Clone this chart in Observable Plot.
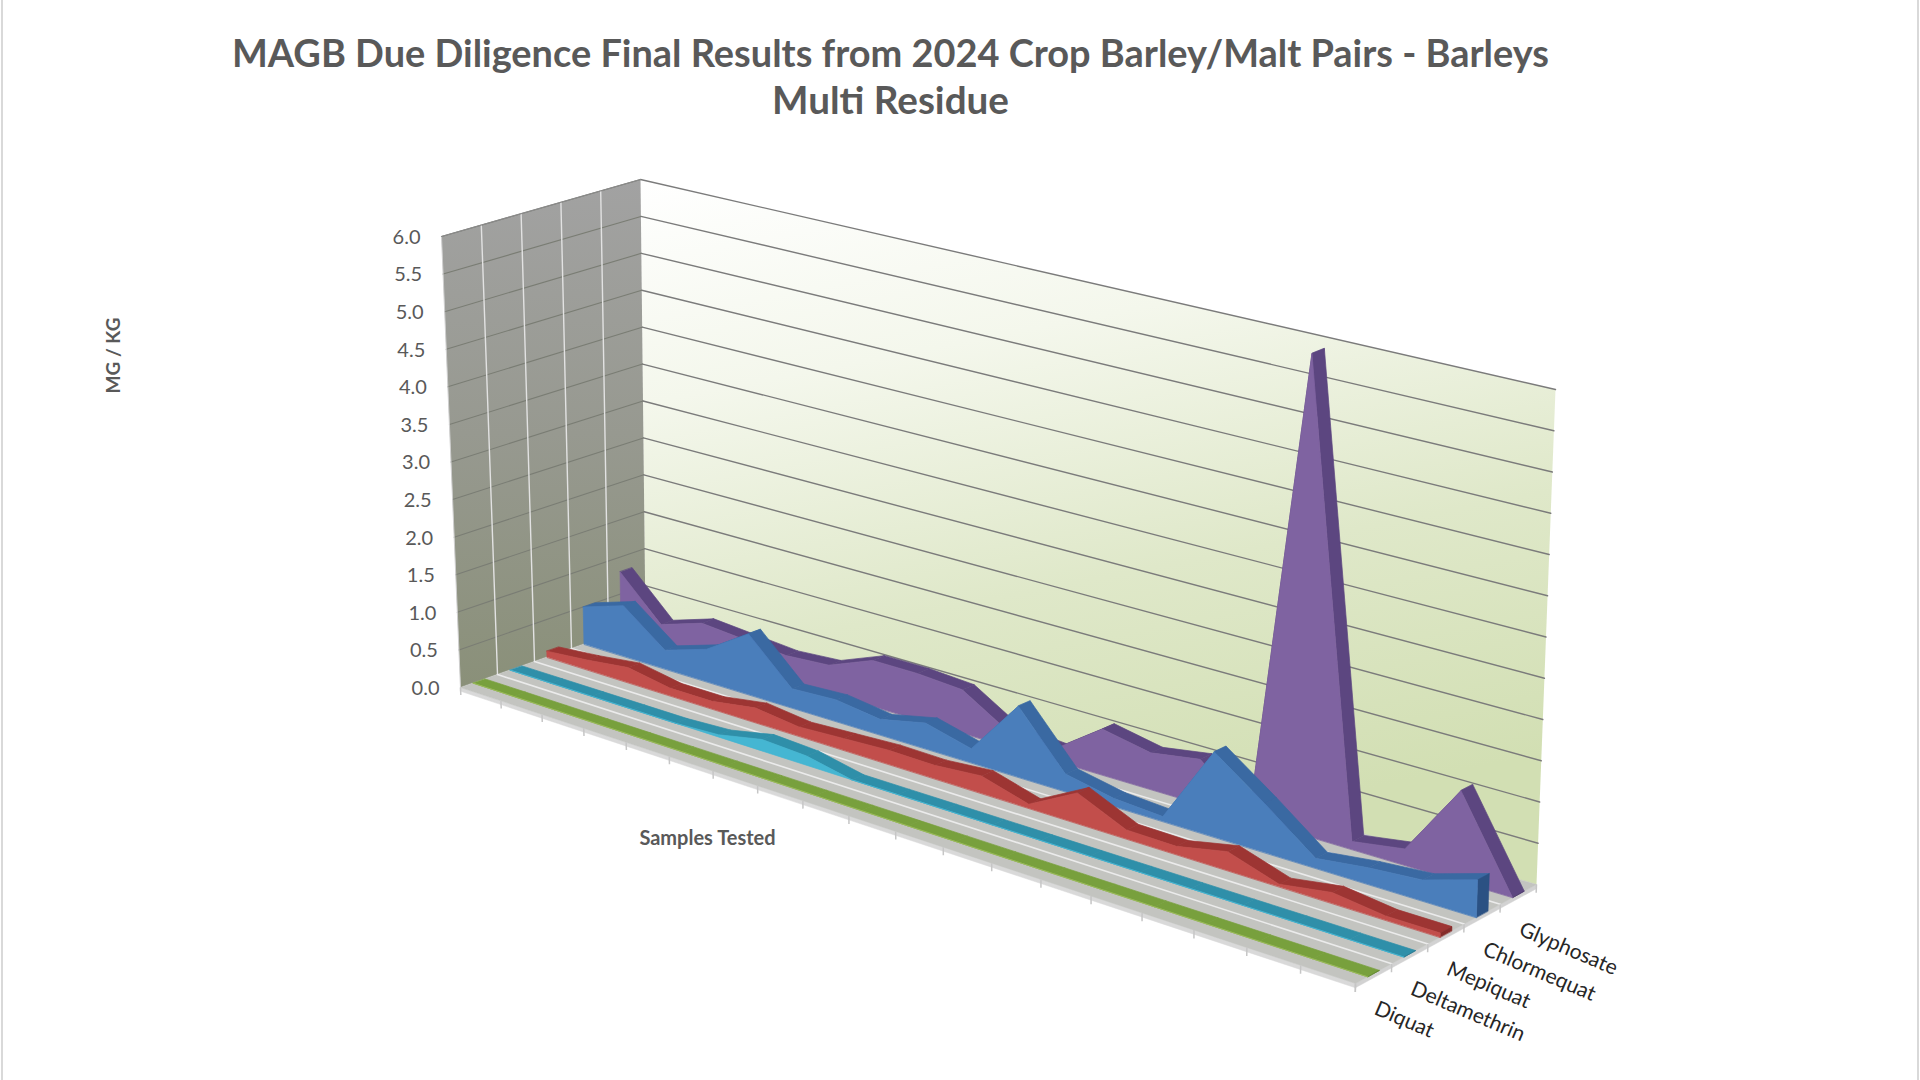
<!DOCTYPE html>
<html>
<head>
<meta charset="utf-8">
<script src="https://cdn.jsdelivr.net/npm/d3@7"></script>
<script src="https://cdn.jsdelivr.net/npm/@observablehq/plot@0.6"></script>
<style>
  html, body { margin: 0; padding: 0; background: #ffffff; overflow: hidden; }
  #chart svg { display: block; }
</style>
</head>
<body>
<div id="chart"></div>
<script>
// ---------------- DATA ----------------
const titleLines = ["MAGB Due Diligence Final Results from 2024 Crop Barley/Malt Pairs - Barleys", "Multi Residue"];
const yAxisTitle = "MG / KG";
const xAxisTitle = "Samples Tested";
const samples = [1, 2, 3, 4, 5, 6, 7, 8, 9, 10, 11, 12, 13, 14, 15, 16, 17, 18, 19, 20];
const seriesNames = ["Diquat", "Deltamethrin", "Mepiquat", "Chlormequat", "Glyphosate"]; // front -> back
const diquat       = [0, 0, 0, 0, 0, 0, 0, 0, 0, 0, 0, 0, 0, 0, 0, 0, 0, 0, 0, 0];
const deltamethrin = [0, 0, 0, 0, 0, 0.03, 0.15, 0.12, 0, 0, 0, 0, 0, 0, 0, 0, 0, 0, 0, 0];
const mepiquat     = [0.08, 0.13, 0.2, 0.1, 0.1, 0.19, 0.12, 0.15, 0.18, 0.17, 0.22, 0.05, 0.38, 0.11, 0.1, 0.23, 0.03, 0.13, 0.05, 0.05];
const chlormequat  = [0.5, 0.68, 0.25, 0.43, 0.8, 0.25, 0.28, 0.2, 0.33, 0.18, 0.9, 0.22, 0.1, 0.06, 1.05, 0.6, 0.12, 0.2, 0.25, 0.45];
const glyphosate   = [0.8, 0.25, 0.43, 0.38, 0.33, 0.37, 0.6, 0.6, 0.56, 0.2, 0.15, 0.58, 0.46, 0.56, 0.05, 5.95, 0.1, 0.2, 1.1, 0];
const yTicks = [0, 0.5, 1, 1.5, 2, 2.5, 3, 3.5, 4, 4.5, 5, 5.5, 6];

// ---------------- STYLE ----------------
const seriesStyle = {
  Glyphosate:   { front: "#7f63a1", top: "#5c4680", cap: "#4b3869" },
  Chlormequat:  { front: "#4a7ebb", top: "#3a69a2", cap: "#2b5183" },
  Mepiquat:     { front: "#c24e4b", top: "#9d3533", cap: "#862c2a" },
  Deltamethrin: { front: "#45b6d2", top: "#2f8fa9", cap: "#267388" },
  Diquat:       { front: "#9bbb59", top: "#78a03d", cap: "#5f8230" }
};
const textColor = "#595959";
const font = "Lato, 'Open Sans', sans-serif";

// ---------------- 3D PROJECTION (derived from the picture's box) ----------------
const floorBox = { FL: [460, 687], FR: [1355, 983], BR: [1536, 884], BL: [645, 622] };
const topBox   = { FL: [441, 236], FR: [1367, 471], BR: [1555, 389], BL: [640, 179] };
const vMax = yTicks[yTicks.length - 1];
const persp = 0.174;
const slab = 0.065;
function sOf(u) { return u / (1 + persp * (1 - u)); }
function bil(c, s, w) {
  return [0, 1].map(k => (1 - s) * (1 - w) * c.FL[k] + s * (1 - w) * c.FR[k] + s * w * c.BR[k] + (1 - s) * w * c.BL[k]);
}
function P(u, w, v) {
  const s = sOf(u);
  const a = bil(floorBox, s, w), b = bil(topBox, s, w);
  const t = v / vMax;
  return { x: a[0] + (b[0] - a[0]) * t, y: a[1] + (b[1] - a[1]) * t };
}
const nCat = samples.length;
const uOf = i => i / (nCat - 1);
const nSer = seriesNames.length;
const valuesByName = { Diquat: diquat, Deltamethrin: deltamethrin, Mepiquat: mepiquat, Chlormequat: chlormequat, Glyphosate: glyphosate };

// ---------------- SHAPES ----------------
const polys = [];
function poly(pts, fill, stroke, sw) { polys.push({ pts, fill, stroke: stroke || fill, sw: sw == null ? 0.7 : sw }); }

// walls and floor
poly([P(0,1,0), P(1,1,0), P(1,1,vMax), P(0,1,vMax)], "url(#backWallGrad)", "none", 0);
poly([P(0,0,0), P(0,1,0), P(0,1,vMax), P(0,0,vMax)], "url(#sideWallGrad)", "none", 0);
poly([P(0,0,0), P(1,0,0), P(1,0,-0.05), P(0,0,-0.05)], "#d9d9d9", "#d9d9d9", 0.5);
poly([P(1,0,0), P(1,1,0), P(1,1,-0.05), P(1,0,-0.05)], "#d2d2d2", "#d2d2d2", 0.5);
poly([P(0,0,0), P(1,0,0), P(1,1,0), P(0,1,0)], "#c3c4c0", "#c3c4c0", 0.5);

const lines = [];
// back wall gridlines
yTicks.forEach(v => { if (v > 0) lines.push({ pts: [P(0,1,v), P(1,1,v)], stroke: "#7b7b7b", sw: 1.4 }); });
// side wall horizontal gridlines
yTicks.forEach(v => { if (v > 0) lines.push({ pts: [P(0,0,v), P(0,1,v)], stroke: "#7a7d74", sw: 1.1 }); });
// side wall depth lines and floor depth lines
for (let k = 1; k < nSer; k++) {
  const w = k / nSer;
  lines.push({ pts: [P(0,w,0), P(0,w,vMax)], stroke: "#e2e2e2", sw: 1.4 });
  lines.push({ pts: [P(0,w,0), P(1,w,0)], stroke: "#ebebeb", sw: 1.6 });
}
lines.push({ pts: [P(0,0,0), P(0,0,vMax)], stroke: "#cfcfcf", sw: 1 });
lines.push({ pts: [P(0,0,vMax), P(0,1,vMax)], stroke: "#8a8a8a", sw: 1.2 });

// series slabs: back to front
const seriesPolys = [];
for (let k = nSer - 1; k >= 0; k--) {
  const name = seriesNames[k];
  const vals = valuesByName[name];
  const st = seriesStyle[name];
  const wc = (k + 0.5) / nSer, wf = wc - slab / 2, wb = wc + slab / 2;
  for (let i = 0; i < nCat - 1; i++) {
    const u0 = uOf(i), u1 = uOf(i + 1);
    seriesPolys.push({ pts: [P(u0,wf,vals[i]), P(u1,wf,vals[i+1]), P(u1,wb,vals[i+1]), P(u0,wb,vals[i])], fill: st.top, stroke: st.top, sw: 0.7 });
  }
  const last = vals[nCat - 1];
  seriesPolys.push({ pts: [P(1,wf,0), P(1,wf,last), P(1,wb,last), P(1,wb,0)], fill: st.cap, stroke: st.cap, sw: 0.5 });
  const front = [P(0,wf,0)];
  vals.forEach((v, i) => front.push(P(uOf(i), wf, v)));
  front.push(P(1,wf,0));
  seriesPolys.push({ pts: front, fill: st.front, stroke: st.front, sw: 0.7 });
}

// tick marks
const ticks = [];
samples.forEach((s, i) => { const a = P(uOf(i),0,0), b = P(uOf(i),0,-0.1); ticks.push({ x1: a.x, y1: a.y, x2: b.x, y2: b.y }); });
for (let k = 0; k <= nSer; k++) { const a = P(1,k/nSer,0), b = P(1,k/nSer,-0.1); ticks.push({ x1: a.x, y1: a.y, x2: b.x, y2: b.y }); }

// labels
const yLabels = yTicks.map(v => ({ ...P(0,0,v), label: v.toFixed(1) }));
const serLabels = seriesNames.map((n, k) => ({ ...P(1,(k + 0.5) / nSer,0), label: n }));

// ---------------- PLOT ----------------
const defsMark = () => {
  const svgNS = "http://www.w3.org/2000/svg";
  const defs = document.createElementNS(svgNS, "defs");
  defs.innerHTML = `
    <linearGradient id="backWallGrad" x1="0" y1="0" x2="0.25" y2="1">
      <stop offset="0" stop-color="#ffffff"/>
      <stop offset="0.3" stop-color="#f4f7ec"/>
      <stop offset="0.65" stop-color="#dfe8c9"/>
      <stop offset="1" stop-color="#d2dfb3"/>
    </linearGradient>
    <linearGradient id="sideWallGrad" x1="0" y1="0" x2="0" y2="1">
      <stop offset="0" stop-color="#a2a2a2"/>
      <stop offset="0.5" stop-color="#979990"/>
      <stop offset="1" stop-color="#8a9079"/>
    </linearGradient>`;
  return defs;
};

const polyMark = p => Plot.line(p.pts, { x: "x", y: "y", fill: p.fill, stroke: p.stroke, strokeWidth: p.sw, curve: "linear-closed" });

const marks = [
  defsMark,
  ...polys.map(polyMark),
  ...lines.map(l => Plot.line(l.pts, { x: "x", y: "y", stroke: l.stroke, strokeWidth: l.sw })),
  Plot.link(ticks, { x1: "x1", y1: "y1", x2: "x2", y2: "y2", stroke: "#c6c6c6", strokeWidth: 1.5 }),
  ...seriesPolys.map(polyMark),
  Plot.text(yLabels, { x: "x", y: "y", text: "label", textAnchor: "end", dx: -21, dy: 1, fontSize: 20, fill: textColor, fontFamily: font }),
  Plot.text(serLabels, { x: "x", y: "y", text: "label", textAnchor: "start", dx: 2, dy: 34, rotate: 23, fontSize: 21, fill: "#262626", fontFamily: font }),
  Plot.text([{ x: 113, y: 355, t: yAxisTitle }], { x: "x", y: "y", text: "t", rotate: -90, fontSize: 19, fontWeight: "bold", fill: textColor, fontFamily: font }),
  Plot.text([{ x: 707, y: 838, t: xAxisTitle }], { x: "x", y: "y", text: "t", fontSize: 20, fontWeight: "bold", fill: textColor, fontFamily: font }),
  Plot.text([{ x: 890, y: 54, t: titleLines[0] }], { x: "x", y: "y", text: "t", fontSize: 38, fontWeight: "bold", fill: textColor, fontFamily: font, className: "ttl1" }),
  Plot.text([{ x: 890, y: 101, t: titleLines[1] }], { x: "x", y: "y", text: "t", fontSize: 38, fontWeight: "bold", fill: textColor, fontFamily: font, className: "ttl2" }),
  Plot.ruleX([1.5, 1917.5], { stroke: "#d9d9d9", strokeWidth: 2 })
];

const chart = Plot.plot({
  width: 1920,
  height: 1080,
  margin: 0,
  style: { background: "#ffffff", overflow: "visible" },
  x: { type: "linear", domain: [0, 1920], range: [0, 1920], axis: null },
  y: { type: "linear", domain: [0, 1080], range: [0, 1080], axis: null },
  marks
});
document.getElementById("chart").appendChild(chart);
d3.select(chart).selectAll(".ttl1 text").attr("textLength", 1317).attr("lengthAdjust", "spacingAndGlyphs");
d3.select(chart).selectAll(".ttl2 text").attr("textLength", 237).attr("lengthAdjust", "spacingAndGlyphs");
</script>
</body>
</html>
